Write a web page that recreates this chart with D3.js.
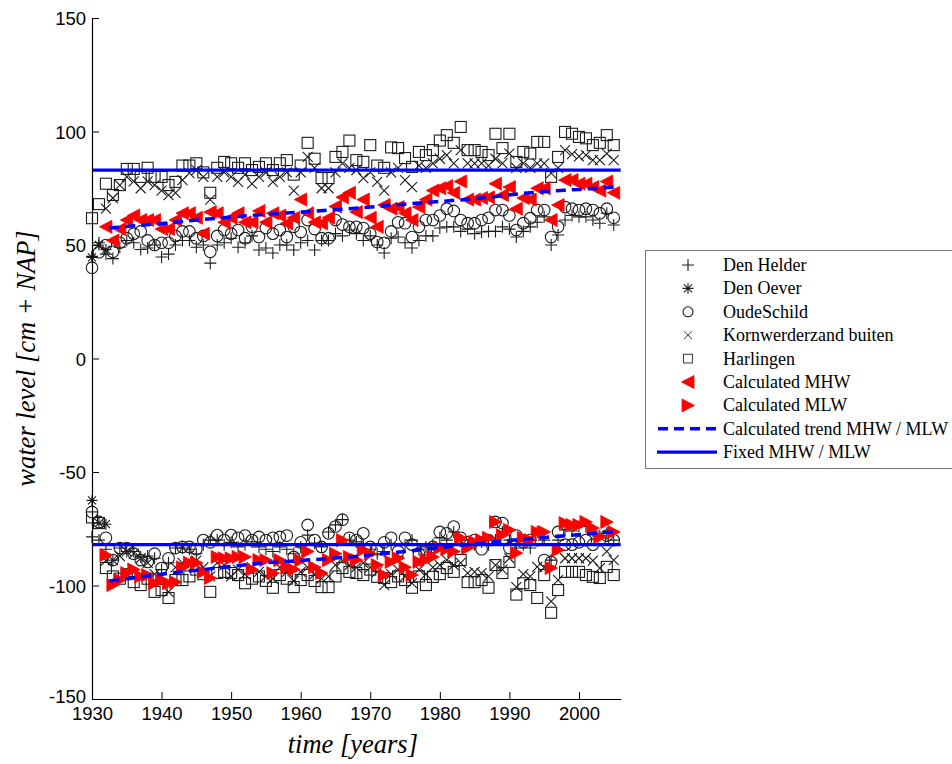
<!DOCTYPE html>
<html>
<head>
<meta charset="utf-8">
<script src="https://cdn.jsdelivr.net/npm/d3@7"></script>
<style>
  body { margin: 0; background: #fff; }
  svg { display: block; }
  .tick text { font-family: "Liberation Sans", Arial, sans-serif; font-size: 18.5px; fill: #000; }
  .lab { font-family: "Liberation Serif", "Times New Roman", serif; font-style: italic; font-size: 26.5px; }
  .leg text { font-family: "Liberation Serif", "Times New Roman", serif; font-size: 18px; }
</style>
</head>
<body>
<div id="chart"></div>
<script>
// station observations, yearly high water (upper band) and low water (lower band)
const denHelderHigh = [45, 51, 46, 44, 49, 52, 51, 48, 48.7, 50, 44.7, 46, 50, 52, 52, 49, 50, 42, 50, 51,
  53, 49, 51, 54, 47.8, 48.7, 46.5, 50, 50, 47.8, 51, 52, 47.8, 52, 52, 55, 54, 56.6, 55, 52,
  54, 50, 46.5, 53, 53.5, 51, 48.7, 52, 54, 54, 57.5, 58, 58, 56, 57, 55, 55.7, 56, 56, 58,
  57, 53.5, 56, 58, 60, 62.4, 50, 54.4, 61, 63, 62.4, 62.4, 61, 59.6, 64, 58.8];            // 1930-2005
const denHelderLow = [-78.6, -80, -84, -88.8, -83.5, -85, -85, -87.4, -87, -88, -93, -90, -83.5, -83.5, -84, -86, -82, -80, -80, -82,
  -81, -83, -82, -80.8, -83, -84, -85, -83, -84, -86, -83, -77.8, -81.3, -83, -76.4, -73.3, -71, -80, -80.8, -82,
  -84, -86, -85, -82, -87.4, -82, -80, -84, -83, -82, -79, -80, -76.4, -80, -82, -82, -80.8, -82, -80, -76.4,
  -80, -83.5, -82, -83.5, -76.4, -80, -88.8, -80, -75.5, -76, -74, -74, -76, -78, -77, -80];   // 1930-2005

const denOeverHigh = [44.5, 50, 48];        // 1930-1932
const denOeverLow = [-62.5, -72.5, -73];    // 1930-1932

const oudeSchildHigh = [40, 46.8, 50, 47, 51, 53, 55, 56, 52, 50, 51, 51, 54, 56, 56, 53, 54, 47, 54, 56.6,
  55, 56.6, 53, 58, 53.5, 57.5, 55, 56.6, 53.5, 58, 55.7, 61, 57, 53, 53, 61, 59, 58, 58, 57.5,
  55, 51.3, 51, 56, 60, 59.6, 53.5, 58, 61, 61, 63, 66, 65, 61, 59.6, 59.6, 61, 62, 65.4, 65.4,
  63, 56.6, 59.6, 61.8, 65.4, 65.4, 53.5, 58, 66.7, 66, 65.4, 66, 65.4, 64, 66, 62];          // 1930-2005
const oudeSchildLow = [-67.6, -72, -79, -88.8, -83.5, -83.5, -86, -88.8, -89.6, -86, -92.3, -88, -83.5, -83, -83, -84, -80, -81, -77.8, -80,
  -77.8, -79, -78, -80, -78.6, -80, -79, -78.6, -78, -87.4, -81, -73.3, -80, -83, -77, -74, -71, -79, -80, -77,
  -83, -84, -81, -79, -85, -79, -82, -86, -84, -83, -76.4, -77, -74, -79, -81, -80, -84, -80, -72, -72.5,
  -83.5, -78, -81, -80, -80, -88.8, -89.6, -76.4, -82, -82, -81, -80, -82, -80, -78, -80];      // 1930-2005

const kornwerderHigh = [66, 70.7, 76.4, 80, 78, 75, 78, 76.4, 74, 72, 73, 78.6, 81.7, 83, 80, 70, 80, 82,
  80, 77.8, 81, 77, 80, 82, 77.8, 80, 82, 74, 82, 88.8, 84, 75, 75, 82, 86, 84, 83, 79.5,
  82, 77.8, 74, 82, 84, 78.6, 75.5, 85, 84, 86, 88, 89.6, 86, 91.8, 86, 86, 86, 85, 88, 86,
  90.3, 84, 86, 84, 86, 86, 81.7, 84, 91.8, 90, 89, 89.6, 87.4, 87.4, 90.3, 87.4];           // 1932-2005
const kornwerderLow = [-89, -88.8, -87, -85, -86, -88, -90, -95, -96, -102.8, -92, -90, -91, -89, -92, -96, -90, -91,
  -96, -93, -95, -92, -94, -96, -97, -92, -94, -98, -94, -92, -95, -97, -96, -91, -89, -91, -92, -90,
  -92, -94, -99.8, -95, -93, -96, -99, -93, -95, -92, -91, -88.8, -91, -90, -94.5, -94, -94.5, -96, -91, -93,
  -88, -100.7, -95, -96, -91.8, -92, -107, -97.6, -88, -88, -88, -88, -89, -92.3, -85, -88.8];  // 1932-2005

const harlingenHigh = [61.8, 68, 77, 72, 76.4, 83.5, 83.5, 80, 84, 80, 80, 76.4, 77.8, 85, 85, 86, 82, 73, 84, 86.6,
  86, 84, 86, 83, 84.4, 86, 83, 86, 87.4, 81, 85, 95, 88, 79.5, 79.5, 88.8, 91, 96, 87.4, 86.6,
  94, 85, 84, 93, 92.7, 88.3, 84.4, 91, 89.6, 91.8, 96, 98.4, 95, 102, 91.8, 91.8, 91, 89.6, 99, 92.7,
  99, 86.6, 91, 90.3, 95.4, 95.4, 80, 88.8, 99.8, 99, 97.6, 97, 94, 95, 98.4, 94];             // 1930-2005
const harlingenLow = [-70, -72.5, -92.3, -96, -97, -95, -98.5, -99.8, -97, -102.8, -102, -105.5, -97.6, -97.6, -96, -93, -95, -102.8, -94.5, -94,
  -94.5, -95.4, -99, -97, -96, -98, -101, -95.4, -97, -100.7, -97.6, -95.4, -98, -100.7, -100.7, -96, -92.3, -94, -94.5, -95.4,
  -93, -96.2, -96.7, -98.5, -96, -97.6, -101, -96, -99.8, -96.2, -95, -92.3, -94, -88.8, -98.5, -98.5, -97.6, -101, -91, -94.5,
  -89.6, -104, -99, -99.8, -105.5, -95.4, -112, -102, -94, -94, -94, -95.4, -96.2, -96.7, -91.8, -95.4];  // 1930-2005

// calculated mean high / low water, 1932-2005
const calcMHW = [58, 52, 57, 61, 63, 61, 61, 61, 57, 57, 61, 64, 64, 62, 55, 64.5, 64, 60, 62, 64,
  60, 60, 65, 60, 64, 63, 59.5, 62, 70, 64, 60, 59.5, 62, 67, 71, 73, 64.5, 70, 62, 58,
  67.6, 66, 66.7, 64, 61, 66.7, 70, 74, 75, 76, 73, 78, 70, 70, 70.7, 71, 77, 72, 75.5, 66,
  70.7, 70, 75, 75, 61, 67.6, 78.6, 78.6, 77, 77, 75.5, 74, 78, 73];
const calcMLW = [-86.6, -99.8, -97.6, -94.5, -93, -96, -95.4, -99, -97.6, -99, -98.5, -92, -90, -90, -94, -96.7, -87.4, -88, -88, -87.4,
  -87.4, -93, -88.8, -88.8, -94.5, -88.8, -92, -93, -89, -85, -92, -94.5, -88.8, -86, -80, -87.4, -88.8, -84.4, -86, -91,
  -95.4, -89.6, -88, -92, -95.4, -89.6, -88.8, -87.4, -83.5, -84, -85, -79, -83.5, -80.8, -80, -79, -72, -77.8, -75.5, -85.7,
  -79, -80, -76.4, -76.4, -92.3, -84.4, -72.5, -73.3, -73.3, -72, -74.7, -78.6, -72, -76.4];

// trend curves
const trendYears = [1932.5, 1940, 1948, 1955, 1960, 1967, 1975, 1986, 1994, 2000, 2005];
const trendMHW = [57.5, 59.5, 61.8, 63.5, 64.5, 66, 68, 70.7, 73.3, 74.5, 75.5];
const trendMLWYears = [1932.5, 1940, 1948, 1955, 1960, 1967, 1975, 1986, 1996, 2005];
const trendMLW = [-98, -95, -92.3, -90, -89, -87.4, -85, -81.3, -78.6, -76.4];

const fixedMHW = 83;
const fixedMLW = -82;

const yTicks = [-150, -100, -50, 0, 50, 100, 150];
const xTicks = [1930, 1940, 1950, 1960, 1970, 1980, 1990, 2000];

const legendLabels = ["Den Helder", "Den Oever", "OudeSchild", "Kornwerderzand buiten", "Harlingen",
  "Calculated MHW", "Calculated MLW", "Calculated trend MHW / MLW", "Fixed MHW / MLW"];

const W = 952, H = 764;
const margin = {left: 92, top: 18, right: 332, bottom: 65};

const svg = d3.select("#chart").append("svg")
    .attr("width", W)
    .attr("height", H);

let x = d3.scaleLinear().domain([1930, 2006]).range([margin.left, 620.7]);
let y = d3.scaleLinear().domain([-150, 150]).range([699, margin.top]);

const years = (start, arr) => arr.map((v, i) => [start + i, v]);

const ink = "#1c1c1c";
const symbols = {
    plus: (g) => g.append("path").attr("d", "M-6,0H6M0,-6V6"),
    star: (g) => g.append("path").attr("d", "M-5.5,0H5.5M0,-5.5V5.5M-4,-4L4,4M-4,4L4,-4"),
    circle: (g) => g.append("circle").attr("r", 5.8),
    cross: (g) => g.append("path").attr("d", "M-5,-5L5,5M-5,5L5,-5"),
    square: (g) => g.append("rect").attr("x", -5.5).attr("y", -5.5).attr("width", 11).attr("height", 11),
    left: (g) => g.append("path").attr("d", "M-6.5,0L6,-6.5L6,6.5Z"),
    right: (g) => g.append("path").attr("d", "M6.5,0L-6,-6.5L-6,6.5Z")
};

function drawSeries(pts, sym, red) {
    let grp = svg.append("g");
    let m = grp.selectAll("g").data(pts).enter().append("g")
        .attr("transform", d => "translate(" + x(d[0]) + "," + y(d[1]) + ")");
    let shapes = symbols[sym](m);
    if (red) {
        shapes.attr("fill", "#ff0000").attr("stroke", "#ff0000").attr("stroke-width", 0.8);
    } else {
        shapes.attr("fill", "none").attr("stroke", ink).attr("stroke-width", 1.1);
    }
}

drawSeries(years(1930, denHelderHigh).concat(years(1930, denHelderLow)), "plus");
drawSeries(years(1930, denOeverHigh).concat(years(1930, denOeverLow)), "star");
drawSeries(years(1930, oudeSchildHigh).concat(years(1930, oudeSchildLow)), "circle");
drawSeries(years(1932, kornwerderHigh).concat(years(1932, kornwerderLow)), "cross");
drawSeries(years(1930, harlingenHigh).concat(years(1930, harlingenLow)), "square");
drawSeries(years(1932, calcMHW), "left", true);
drawSeries(years(1932, calcMLW), "right", true);

//Trend lines
let line = d3.line().x(d => x(d[0])).y(d => y(d[1])).curve(d3.curveMonotoneX);
[trendYears.map((t, i) => [t, trendMHW[i]]), trendMLWYears.map((t, i) => [t, trendMLW[i]])].forEach(pts => {
    svg.append("path")
        .attr("d", line(pts))
        .attr("fill", "none")
        .attr("stroke", "#0000ff")
        .attr("stroke-width", 3.5)
        .attr("stroke-dasharray", "10,6");
});

//Fixed levels
[fixedMHW, fixedMLW].forEach(v => {
    svg.append("line")
        .attr("x1", x(1930)).attr("x2", x(2006))
        .attr("y1", y(v)).attr("y2", y(v))
        .attr("stroke", "#0000ff")
        .attr("stroke-width", 3.2);
});

//Axes
let xAxis = d3.axisBottom(x).tickValues(xTicks).tickFormat(d => String(d)).tickSizeInner(-7).tickSizeOuter(0).tickPadding(4);
let yAxis = d3.axisLeft(y).tickValues(yTicks).tickFormat(d => String(d)).tickSizeInner(-7).tickSizeOuter(0).tickPadding(6);

let gx = svg.append("g").attr("transform", "translate(0,699)").call(xAxis);
let gy = svg.append("g").attr("transform", "translate(" + margin.left + ",0)").call(yAxis);
[gx, gy].forEach(g => {
    g.select(".domain").attr("stroke", "#000").attr("stroke-width", 1.2);
    g.selectAll(".tick line").attr("stroke", "#000");
});
gx.selectAll(".tick text").attr("dy", "0.9em");
gy.selectAll(".tick text").attr("dy", "0.36em");
// bottom y label sits a little higher, as in the original
gy.selectAll(".tick text").filter(d => d === -150).attr("dy", "0.2em");

svg.append("text")
    .attr("class", "lab")
    .attr("x", x(1967.5))
    .attr("y", 753)
    .attr("text-anchor", "middle")
    .text("time [years]");

svg.append("text")
    .attr("class", "lab")
    .attr("transform", "translate(35," + y(0) + ") rotate(-90)")
    .attr("text-anchor", "middle")
    .text("water level [cm + NAP]");

//Legend
let leg = svg.append("g").attr("class", "leg");
leg.append("rect")
    .attr("x", 645.5).attr("y", 250.5)
    .attr("width", 312).attr("height", 218)
    .attr("fill", "#fff")
    .attr("stroke", "#777")
    .attr("stroke-width", 1);

const rowY = i => 265 + i * 23.4;
const legSyms = ["plus", "star", "circle", "cross", "square", "left", "right"];
legSyms.forEach((s, i) => {
    let g = leg.append("g").attr("transform", "translate(688," + rowY(i) + ")");
    let sh = symbols[s](g);
    if (i >= 5) sh.attr("fill", "#ff0000").attr("stroke", "#ff0000").attr("stroke-width", 0.8);
    else sh.attr("fill", "none").attr("stroke", ink).attr("stroke-width", 1.1);
    if (s === "circle") sh.attr("r", 5);
    if (s === "square") sh.attr("transform", "scale(0.8)");
    if (s === "cross") sh.attr("transform", "scale(0.8)");
});
leg.append("line").attr("x1", 658).attr("x2", 717).attr("y1", rowY(7)).attr("y2", rowY(7))
    .attr("stroke", "#0000ff").attr("stroke-width", 3.5).attr("stroke-dasharray", "10,6");
leg.append("line").attr("x1", 657).attr("x2", 717).attr("y1", rowY(8)).attr("y2", rowY(8))
    .attr("stroke", "#0000ff").attr("stroke-width", 3.2);

leg.selectAll(".lt").data(legendLabels).enter().append("text")
    .attr("class", "lt")
    .attr("x", 723)
    .attr("y", (d, i) => rowY(i))
    .attr("dy", "0.33em")
    .text(d => d);
</script>
</body>
</html>
